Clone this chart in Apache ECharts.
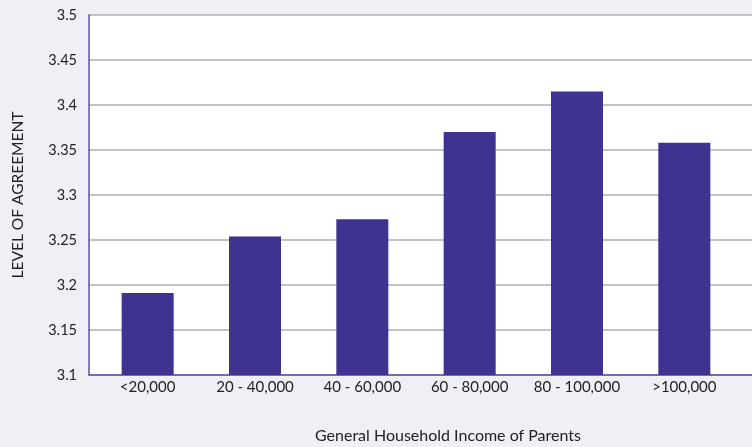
<!DOCTYPE html>
<html>
<head>
<meta charset="utf-8">
<script src="https://cdn.jsdelivr.net/npm/echarts@6.0.0/dist/echarts.min.js"></script>
</head>
<body style="margin:0; padding:0; background:#eff0f5;">
<div id="chart" style="width:752px; height:447px;"></div>
<script type="text/javascript">
// income groups and mean agreement
const incomeGroups = ['<20,000', '20 - 40,000', '40 - 60,000', '60 - 80,000', '80 - 100,000', '>100,000'];
const agreement = [3.191, 3.254, 3.273, 3.370, 3.415, 3.358];
const yTicks = [3.1, 3.15, 3.2, 3.25, 3.3, 3.35, 3.4, 3.45, 3.5];

const font = 'Lato, "DejaVu Sans", sans-serif';
const chart = echarts.init(document.getElementById('chart'));

const option = {
	backgroundColor: '#eff0f5',
	textStyle: { fontFamily: font },
	grid: [
		// full width grid: frame + gridlines
		{ left: 89, right: 0, top: 15, bottom: 72, backgroundColor: '#ffffff', show: true, borderWidth: 0 },
		// bars
		{ left: 94, right: 14, top: 15, bottom: 72 }
	],
	xAxis: [
		{
			type: 'category', gridIndex: 0, data: incomeGroups,
			axisLine: { lineStyle: { color: '#5a4fb0', width: 1.5 } },
			axisTick: { show: false },
			axisLabel: { show: false }
		},
		{
			type: 'category', gridIndex: 1, data: incomeGroups,
			axisLine: { show: false },
			axisTick: { show: false },
			axisLabel: { color: '#222', fontSize: 15, margin: 5, interval: 0, hideOverlap: false, fontFamily: font }
		}
	],
	yAxis: [
		{
			type: 'value', gridIndex: 0, min: yTicks[0], max: yTicks[yTicks.length - 1], interval: 0.05,
			name: 'LEVEL OF AGREEMENT', nameLocation: 'middle', nameGap: 63,
			nameTextStyle: { color: '#222', fontSize: 15.5, fontFamily: font },
			axisLine: { show: true, lineStyle: { color: '#5a4fb0', width: 1.5 } },
			axisTick: { show: false },
			axisLabel: {
				color: '#222', fontSize: 14.5, margin: 12, fontFamily: font,
				formatter: v => String(+v.toFixed(2))
			},
			splitLine: { lineStyle: { color: '#b0b0b0', width: 1.5 } }
		},
		{
			type: 'value', gridIndex: 1, min: yTicks[0], max: yTicks[yTicks.length - 1], interval: 0.05,
			show: false, splitLine: { show: false }
		}
	],
	series: [{
		type: 'bar',
		xAxisIndex: 1, yAxisIndex: 1,
		data: agreement,
		barWidth: 52,
		itemStyle: { color: '#3f3391' }
	}],
	graphic: [{
		type: 'text', left: 315, top: 428,
		style: { text: 'General Household Income of Parents', fill: '#222', font: '16px ' + font }
	}]
};

chart.setOption(option);
</script>
</body>
</html>
